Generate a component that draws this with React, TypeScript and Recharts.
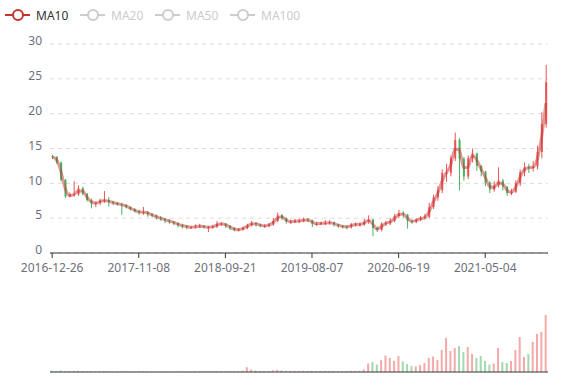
import React from "react";
import { ComposedChart, Bar, Line, XAxis, YAxis, CartesianGrid, Cell } from "recharts";

// x-axis labels, one every 20 samples
const tickLabels = ["2016-12-26", "2017-11-08", "2018-09-21", "2019-08-07", "2020-06-19", "2021-05-04"];

const firstOpen = 13.9;

const closes = [
  13.8, 13.0, 10.5, 8.1, 8.4, 8.4, 9.3, 8.5, 7.6, 7.1,
  7.2, 7.5, 7.6, 7.3, 7.2, 7.0, 6.9, 6.6, 6.3, 6.0,
  5.8, 5.9, 5.6, 5.4, 5.1, 4.9, 4.7, 4.5, 4.3, 4.0,
  3.9, 3.7, 3.7, 3.8, 3.9, 3.7, 3.7, 3.8, 4.2, 4.2,
  3.9, 3.6, 3.3, 3.4, 3.6, 4.0, 4.3, 4.1, 3.9, 3.9,
  4.1, 4.6, 5.4, 5.0, 4.5, 4.5, 4.6, 4.6, 4.8, 4.7,
  4.2, 4.2, 4.3, 4.3, 4.4, 4.1, 3.9, 3.8, 3.7, 4.1,
  4.1, 4.1, 4.5, 4.8, 3.6, 3.3, 4.2, 4.3, 4.6, 5.3,
  5.7, 5.5, 4.6, 4.5, 4.8, 5.0, 5.2, 6.6, 8.0, 9.0,
  11.5, 11.5, 13.6, 16.2, 13.5, 11.0, 13.6, 14.3, 12.5, 11.7,
  10.1, 9.1, 9.7, 10.4, 9.5, 8.6, 8.8, 10.0, 11.6, 12.3,
  12.2, 12.4, 14.5, 18.5, 24.5,
];

const highs = [
  14.1, 13.9, 13.1, 10.6, 8.7, 10.3, 9.7, 9.5, 8.6, 7.8,
  7.4, 7.8, 8.9, 8.0, 7.5, 7.3, 7.2, 7.0, 6.7, 6.4,
  6.2, 6.6, 6.0, 5.7, 5.5, 5.3, 5.0, 4.8, 4.6, 4.4,
  4.2, 4.0, 3.9, 4.1, 4.2, 4.0, 3.9, 4.0, 4.6, 4.4,
  4.3, 4.0, 3.7, 3.6, 3.8, 4.2, 4.6, 4.4, 4.2, 4.1,
  4.3, 5.0, 5.8, 5.6, 5.1, 4.8, 4.9, 4.9, 5.1, 5.0,
  4.8, 4.5, 4.5, 4.7, 4.7, 4.5, 4.2, 4.0, 4.0, 4.3,
  4.4, 4.4, 4.9, 5.4, 4.9, 3.8, 4.4, 4.6, 5.0, 5.6,
  6.2, 6.0, 5.6, 4.8, 5.0, 5.3, 5.6, 7.2, 8.4, 9.6,
  12.0, 12.8, 14.0, 17.3, 16.5, 13.8, 14.0, 15.0, 14.4, 12.6,
  11.8, 10.3, 10.3, 12.3, 10.6, 9.6, 9.2, 10.4, 12.0, 13.0,
  12.8, 13.2, 15.4, 20.2, 27.0,
];

const lows = [
  13.5, 12.8, 10.3, 7.9, 8.0, 8.1, 8.2, 8.3, 7.4, 6.4,
  6.6, 6.9, 7.2, 6.7, 6.9, 6.8, 5.5, 6.4, 6.1, 5.8,
  5.5, 5.5, 5.2, 5.1, 4.8, 4.6, 4.3, 4.2, 4.0, 3.7,
  3.5, 3.4, 3.5, 3.5, 3.6, 3.5, 3.0, 3.5, 3.6, 3.9,
  3.6, 3.3, 3.1, 3.1, 3.2, 3.4, 3.8, 3.8, 3.7, 3.6,
  3.7, 3.9, 4.4, 4.7, 4.2, 4.2, 4.3, 4.3, 4.4, 4.4,
  3.7, 3.9, 4.0, 4.0, 4.1, 3.8, 3.6, 3.5, 3.4, 3.5,
  3.8, 3.8, 3.9, 4.2, 2.4, 3.0, 3.1, 3.9, 4.0, 4.4,
  5.0, 5.1, 3.5, 4.2, 4.3, 4.6, 4.8, 5.0, 6.3, 7.5,
  8.6, 10.2, 11.0, 13.2, 9.0, 10.4, 10.6, 13.0, 11.8, 11.0,
  9.6, 8.6, 8.8, 9.4, 9.0, 8.2, 8.3, 8.6, 9.6, 11.0,
  11.5, 11.7, 12.0, 13.6, 18.0,
];

const volumes = [
  1.2, 1.0, 1.5, 1.0, 0.8, 0.9, 1.2, 0.8, 0.6, 0.5,
  0.5, 0.6, 0.8, 0.5, 0.4, 0.4, 0.6, 0.5, 0.4, 0.4,
  0.4, 0.6, 0.5, 0.4, 0.4, 0.5, 0.4, 0.4, 0.3, 0.4,
  0.4, 0.3, 0.4, 0.4, 0.4, 0.5, 0.6, 0.4, 0.7, 0.5,
  0.4, 0.5, 0.6, 0.5, 1.2, 4.8, 2.5, 1.5, 1.0, 0.9,
  1.0, 1.6, 2.2, 1.5, 1.2, 1.0, 1.1, 1.0, 1.2, 1.0,
  1.2, 1.0, 0.9, 1.1, 1.0, 0.9, 0.8, 0.8, 0.9, 1.2,
  1.0, 1.2, 2.5, 8.5, 10.0, 7.5, 12.0, 16.5, 14.0, 11.0,
  16.0, 10.5, 8.0, 6.0, 5.5, 7.0, 9.0, 14.0, 15.5, 12.0,
  22.0, 34.0, 21.0, 24.0, 26.0, 20.0, 25.0, 18.0, 14.0, 16.0,
  11.0, 7.5, 8.5, 24.0, 10.0, 9.0, 11.0, 22.0, 35.0, 15.0,
  18.0, 30.0, 38.0, 40.0, 57.0,
];

const UP = "#eb5454";
const DOWN = "#47b262";
const MA_COLOR = "#c23531";

const data = closes.map((close, i) => {
  const open = i === 0 ? firstOpen : closes[i - 1];
  const prev = i === 0 ? close : closes[i - 1];
  return {
    i,
    open,
    close,
    high: highs[i],
    low: lows[i],
    range: [lows[i], highs[i]],
    volume: volumes[i],
    ma10: (prev + close) / 2,
    up: close >= open,
  };
});

const Candle = (props: any) => {
  const { x, y, width, height, payload } = props;
  const { open, close, high, low } = payload;
  const ratio = height / (high - low);
  const cx = x + width / 2;
  const yO = y + (high - open) * ratio;
  const yC = y + (high - close) * ratio;
  const color = close >= open ? UP : DOWN;
  const top = Math.min(yO, yC);
  const h = Math.max(Math.abs(yO - yC), 1);
  return (
    <g>
      <line x1={cx} x2={cx} y1={y} y2={y + height} stroke={color} strokeWidth={1} />
      <rect x={cx - 1} y={top} width={2} height={h} fill={color} />
    </g>
  );
};

const legendItems = [
  { name: "MA10", x: 5, on: true },
  { name: "MA20", x: 80, on: false },
  { name: "MA50", x: 155, on: false },
  { name: "MA100", x: 230, on: false },
];

const Legend = () => (
  <svg width={320} height={30} style={{ position: "absolute", left: 0, top: 0 }}>
    {legendItems.map((it) => {
      const c = it.on ? MA_COLOR : "#ccc";
      return (
        <g key={it.name}>
          <line x1={it.x} x2={it.x + 25} y1={15} y2={15} stroke={c} strokeWidth={2} />
          <circle cx={it.x + 13} cy={15} r={5} fill="#fff" stroke={c} strokeWidth={2} />
          <text x={it.x + 31} y={19.5} fontSize={12} fill={it.on ? "#333" : "#ccc"}>
            {it.name}
          </text>
        </g>
      );
    })}
  </svg>
);

export default function App() {
  const axisColor = "#6e7079";
  return (
    <div
      style={{
        position: "absolute",
        left: 0,
        top: 0,
        width: 577,
        height: 380,
        background: "#fff",
        fontFamily: "'Noto Sans', sans-serif",
      }}
    >
      <Legend />
      <div style={{ position: "absolute", left: 0, top: 0 }}>
        <ComposedChart width={577} height={280} data={data} margin={{ top: 44, right: 29, left: 0, bottom: 0 }}>
          <CartesianGrid vertical={false} stroke="#ddd" strokeDasharray="4 4" />
          <XAxis
            dataKey="i"
            height={27}
            interval={19}
            tickFormatter={(v: number) => tickLabels[v / 20] ?? ""}
            tick={{ fill: axisColor, fontSize: 12, dy: 3 }}
            tickSize={5}
            tickLine={{ stroke: "#333" }}
            axisLine={{ stroke: "#333" }}
          />
          <YAxis
            width={50}
            domain={[0, 30]}
            ticks={[0, 5, 10, 15, 20, 25, 30]}
            tick={{ fill: axisColor, fontSize: 12, dy: -3 }}
            axisLine={false}
            tickLine={false}
          />
          <Bar dataKey="range" barSize={3} shape={<Candle />} isAnimationActive={false} />
          <Line
            dataKey="ma10"
            type="monotone"
            stroke={MA_COLOR}
            strokeOpacity={0.5}
            strokeWidth={3}
            dot={false}
            activeDot={false}
            isAnimationActive={false}
          />
        </ComposedChart>
      </div>
      <div style={{ position: "absolute", left: 0, top: 280 }}>
        <ComposedChart width={577} height={100} data={data} margin={{ top: 32, right: 29, left: 50, bottom: 0 }}>
          <XAxis dataKey="i" height={8} tick={false} tickLine={false} axisLine={{ stroke: "#333" }} />
          <YAxis hide domain={[0, 60]} />
          <Bar dataKey="volume" barSize={2} isAnimationActive={false}>
            {data.map((d) => (
              <Cell key={d.i} fill={d.up ? UP : DOWN} fillOpacity={0.5} />
            ))}
          </Bar>
        </ComposedChart>
      </div>
    </div>
  );
}
